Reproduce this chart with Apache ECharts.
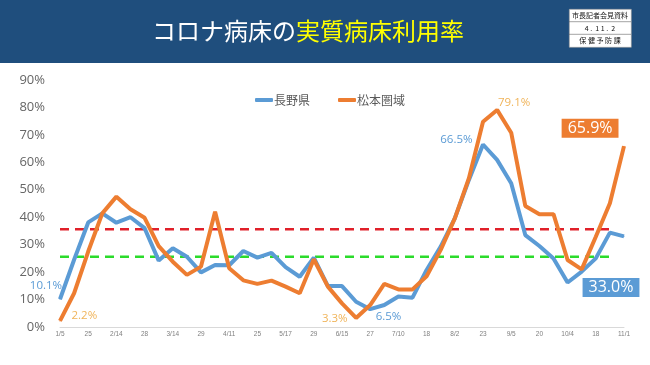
<!DOCTYPE html>
<html><head><meta charset="utf-8">
<script src="https://cdn.jsdelivr.net/npm/echarts@6/dist/echarts.min.js"></script>
<style>html,body{margin:0;padding:0;background:#fff}#c{width:650px;height:365px}</style>
</head><body><div id="c"></div>
<script>
const tickLabels = ['1/5','25','2/14','28','3/14','29','4/11','25','5/17','29','6/15','27','7/10','18','8/2','23','9/5','20','10/4','18','11/1'];
const naganoValues = [10.1,24.5,38.1,41.4,38.0,40.0,36.0,24.2,28.7,25.6,19.9,22.6,22.5,27.7,25.3,27.0,21.8,18.3,25.3,14.9,14.9,9.2,6.5,8.0,11.1,10.7,20.8,29.3,39.6,53.6,66.5,60.9,52.4,33.5,29.5,25.0,16.2,20.2,25.0,34.4,33.0];
const matsumotoValues = [2.2,12.3,27.5,41.4,47.5,42.9,39.8,29.5,23.8,19.0,22.0,42.0,21.4,17.0,15.7,16.9,14.7,12.3,24.7,14.7,8.6,3.3,8.0,15.7,13.7,13.7,18.5,28.1,39.6,54.2,74.8,79.1,70.8,44.1,41.1,41.1,24.4,21.0,32.9,45.1,65.9];
const redThreshold = 35.6;
const greenThreshold = 25.6;
const seriesNames = ['長野県','松本圏域'];

const categories = naganoValues.map((_, i) => String(i));
const BLUE = '#5B9BD5', ORANGE = '#ED7D31', LORANGE = '#F0B45A';
const lastIdx = naganoValues.length - 1;

function withLabels(values, labelMap) {
  return values.map((v, i) => labelMap[i] ? { value: v, label: Object.assign({ show: true, formatter: v.toFixed(1) + '%' }, labelMap[i]) } : v);
}
const smallLbl = { fontSize: 11.5, fontFamily: 'Open Sans' };
const naganoLabels = {
  0: Object.assign({ position: 'top', offset: [-14, -2], color: BLUE }, smallLbl),
  22: Object.assign({ position: 'right', offset: [0, 8], color: BLUE }, smallLbl),
  30: Object.assign({ position: 'left', offset: [-5, -5], color: BLUE }, smallLbl),
  [lastIdx]: { position: 'bottom', offset: [-13, 36], color: '#fff', backgroundColor: BLUE, padding: [2, 6, 1, 6], fontSize: 16, fontFamily: 'Open Sans' }
};
const matsumotoLabels = {
  0: Object.assign({ position: 'right', offset: [6, -5], color: LORANGE }, smallLbl),
  21: Object.assign({ position: 'left', offset: [-3, 1], color: LORANGE }, smallLbl),
  31: Object.assign({ position: 'top', offset: [17, 4], color: LORANGE }, smallLbl),
  [lastIdx]: { position: 'left', offset: [0, -18], color: '#fff', backgroundColor: ORANGE, padding: [2, 6, 1, 6], fontSize: 16, fontFamily: 'Open Sans' }
};

function threshold(y, color) {
  return {
    type: 'line', silent: true, symbol: 'none', z: 1,
    data: categories.map((_, i) => i < lastIdx ? y : null),
    lineStyle: { color: color, width: 2.5, type: [9, 6] }
  };
}
function mainSeries(name, values, labels, color, z) {
  return { name: name, type: 'line', symbol: 'circle', symbolSize: 1, showAllSymbol: true, z: z,
    data: withLabels(values, labels),
    lineStyle: { color: color, width: 4 }, itemStyle: { color: color } };
}

const chart = echarts.init(document.getElementById('c'));
chart.setOption({
  animation: false,
  backgroundColor: '#fff',
  grid: { left: 60, right: 26, top: 80, bottom: 38 },
  legend: {
    data: seriesNames, top: 89, left: 250, itemGap: 28, itemWidth: 18, itemHeight: 4,
    icon: 'roundRect',
    textStyle: { color: '#595959', fontSize: 12, fontFamily: 'Noto Sans CJK JP', padding: [0, 0, 0, -4] }
  },
  xAxis: {
    type: 'category', data: categories, boundaryGap: false,
    axisLine: { lineStyle: { color: '#D9D9D9' } }, axisTick: { show: false },
    axisLabel: { interval: 0, margin: 4, fontSize: 6.5, color: '#808080',
      formatter: (v, i) => i % 2 === 0 ? tickLabels[i / 2] : '' }
  },
  yAxis: {
    type: 'value', min: 0, max: 90, interval: 10,
    splitLine: { show: false }, axisLine: { show: false }, axisTick: { show: false },
    axisLabel: { formatter: '{value}%', color: '#666', fontSize: 13, margin: 15, fontFamily: 'Open Sans' }
  },
  series: [
    threshold(redThreshold, '#E0202A'),
    threshold(greenThreshold, '#2BDB2B'),
    mainSeries(seriesNames[0], naganoValues, naganoLabels, BLUE, 3),
    mainSeries(seriesNames[1], matsumotoValues, matsumotoLabels, ORANGE, 4)
  ],
  graphic: [
    { type: 'rect', left: 0, top: 0, shape: { width: 650, height: 63 }, style: { fill: '#1F4E7D' }, z: 0 },
    { type: 'text', left: 152, top: 19, style: {
        text: '{w|コロナ病床の}{y|実質病床利用率}',
        rich: { w: { fill: '#fff', fontSize: 24, fontFamily: 'Noto Sans CJK JP' }, y: { fill: '#FFFF00', fontSize: 24, fontFamily: 'Noto Sans CJK JP' } } } },
    { type: 'rect', left: 569, top: 9, shape: { width: 62, height: 38 }, style: { fill: '#fff', stroke: '#999', lineWidth: 0.6 } },
    { type: 'line', shape: { x1: 569, y1: 21.7, x2: 631, y2: 21.7 }, style: { stroke: '#666', lineWidth: 0.6 } },
    { type: 'line', shape: { x1: 569, y1: 34.3, x2: 631, y2: 34.3 }, style: { stroke: '#666', lineWidth: 0.6 } },
    { type: 'text', x: 600, y: 15.5, style: { text: '市長記者会見資料', fill: '#111', fontSize: 7, fontFamily: 'Noto Sans CJK JP', align: 'center', verticalAlign: 'middle' } },
    { type: 'text', x: 600, y: 28, style: { text: '4 .  1 1 .  2', fill: '#111', fontSize: 7, fontFamily: 'Noto Sans CJK JP', align: 'center', verticalAlign: 'middle' } },
    { type: 'text', x: 600, y: 40.7, style: { text: '保 健 予 防 課', fill: '#111', fontSize: 7, fontFamily: 'Noto Sans CJK JP', align: 'center', verticalAlign: 'middle' } }
  ]
});
</script></body></html>
